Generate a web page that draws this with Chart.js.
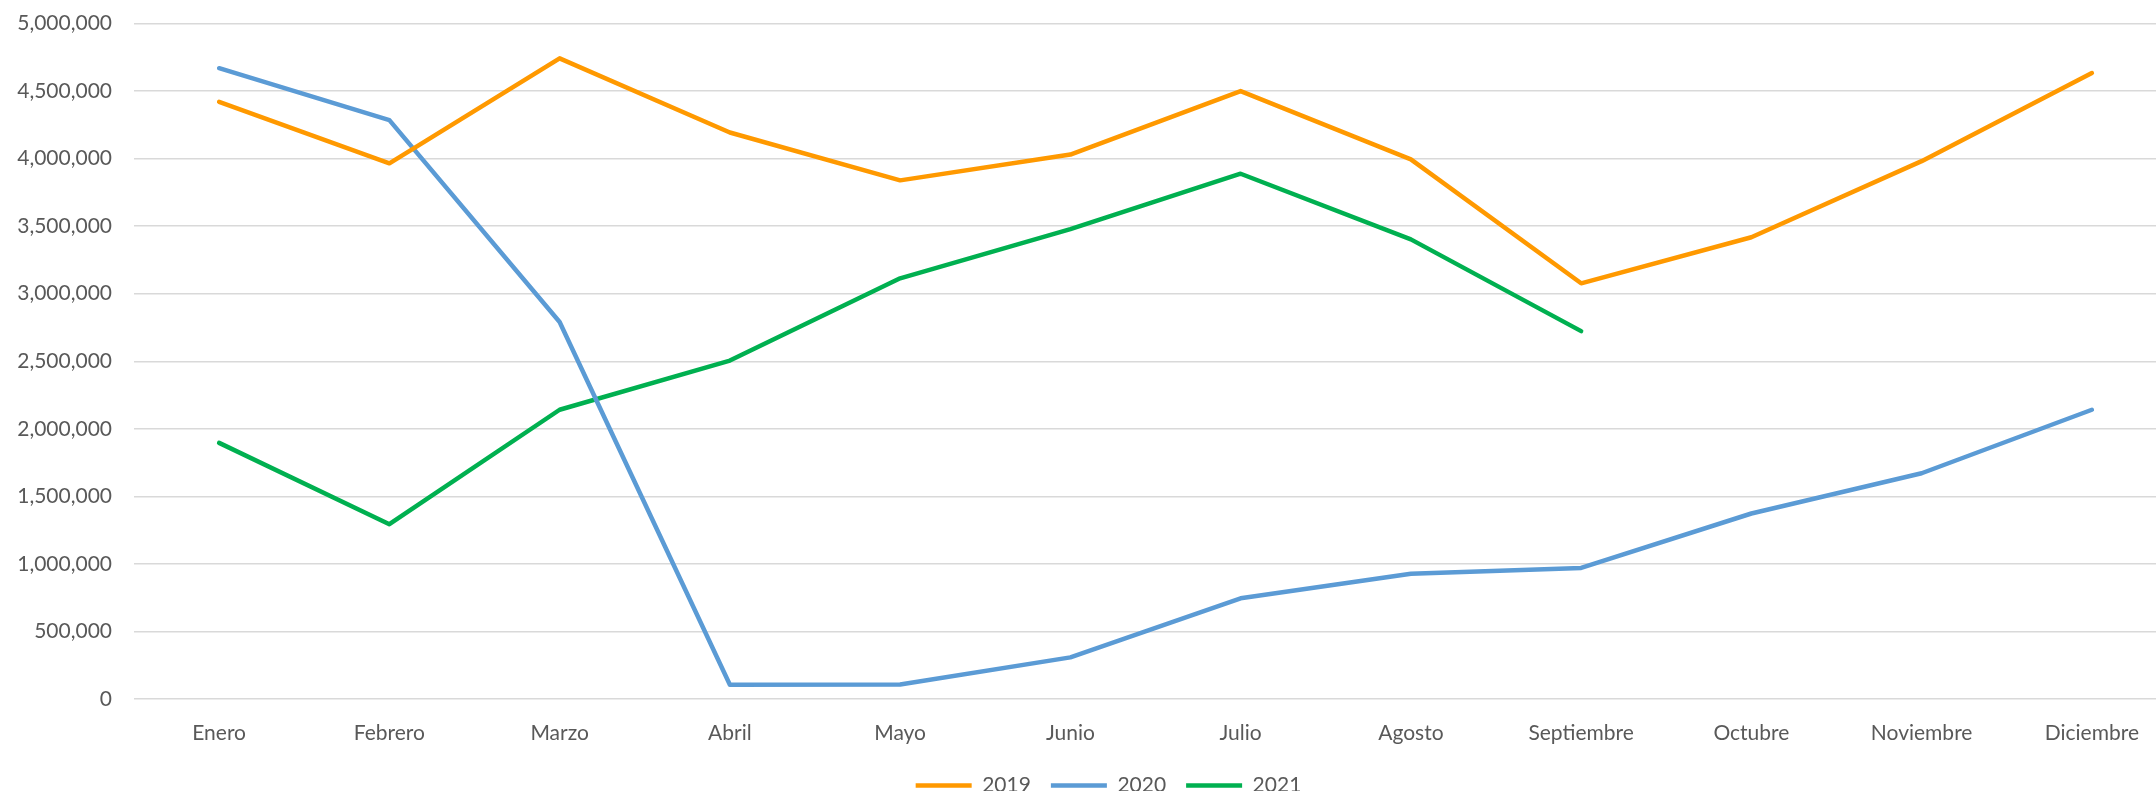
<!DOCTYPE html>
<html>
<head>
<meta charset="utf-8">
<script src="https://cdn.jsdelivr.net/npm/chart.js@4"></script>
<style>
  html, body { margin: 0; padding: 0; background: #fff; overflow: hidden; }
  #wrap { position: relative; width: 2177px; height: 806px; }
</style>
</head>
<body>
<div id="wrap"><canvas id="salesChart"></canvas></div>
<script>
const months = ['Enero', 'Febrero', 'Marzo', 'Abril', 'Mayo', 'Junio', 'Julio', 'Agosto', 'Septiembre', 'Octubre', 'Noviembre', 'Diciembre'];
const values2019 = [4420000, 3965000, 4742000, 4193000, 3839000, 4030000, 4500000, 3994000, 3077000, 3418000, 3981000, 4633000];
const values2020 = [4669000, 4285000, 2790000, 106000, 108000, 308000, 745000, 927000, 970000, 1373000, 1671000, 2141000];
const values2021 = [1896000, 1294000, 2141000, 2505000, 3114000, 3478000, 3888000, 3402000, 2723000, null, null, null];
const yTicks = [0, 500000, 1000000, 1500000, 2000000, 2500000, 3000000, 3500000, 4000000, 4500000, 5000000];

const textColor = '#595959';
const fontFamily = 'Lato, "Open Sans", sans-serif';

function line(label, data, color) {
    return {
        label: label,
        data: data,
        borderColor: color,
        backgroundColor: color,
        borderWidth: 4.5,
        borderCapStyle: 'round',
        borderJoinStyle: 'round',
        pointRadius: 0,
        pointHoverRadius: 0,
        tension: 0,
        fill: false
    };
}

// nudge the legend a bit to the right, where Excel puts it
const legendShift = {
    id: 'legendShift',
    afterLayout: chart => {
        chart.legend.left += 20;
        chart.legend.right += 20;
    }
};

function renderChart() {
    const ctx = document.getElementById('salesChart').getContext('2d');
    new Chart(ctx, {
        type: 'line',
        data: {
            labels: months,
            datasets: [
                line('2019', values2019, '#FF9900'),
                line('2020', values2020, '#5B9BD5'),
                line('2021', values2021, '#00B050')
            ]
        },
        plugins: [legendShift],
        options: {
            responsive: true,
            maintainAspectRatio: false,
            animation: false,
            layout: { padding: { top: 23.5, left: 0, right: 0, bottom: 0 } },
            plugins: {
                tooltip: { enabled: false },
                legend: {
                    position: 'bottom',
                    labels: {
                        usePointStyle: true,
                        pointStyle: 'line',
                        pointStyleWidth: 56,
                        padding: 20,
                        color: textColor,
                        font: { family: fontFamily, size: 21 }
                    }
                }
            },
            scales: {
                x: {
                    offset: true,
                    grid: { display: false, drawTicks: false },
                    border: { display: false },
                    ticks: {
                        color: textColor,
                        padding: 22,
                        maxRotation: 0,
                        autoSkip: false,
                        font: { family: fontFamily, size: 21 }
                    },
                    afterFit: scale => { scale.height = 56; }
                },
                y: {
                    min: 0,
                    max: 5000000,
                    afterBuildTicks: scale => { scale.ticks = yTicks.map(v => ({ value: v })); },
                    grid: { color: '#D9D9D9', lineWidth: 1.5, drawTicks: false },
                    border: { display: false },
                    ticks: {
                        color: textColor,
                        padding: 22,
                        font: { family: fontFamily, size: 21 },
                        callback: v => v.toLocaleString('en-US')
                    },
                    afterFit: scale => {
                        scale.width = 134;
                        scale.paddingTop = 0;
                        scale.paddingBottom = 0;
                    }
                }
            }
        }
    });
}

document.addEventListener('DOMContentLoaded', renderChart);
</script>
</body>
</html>
